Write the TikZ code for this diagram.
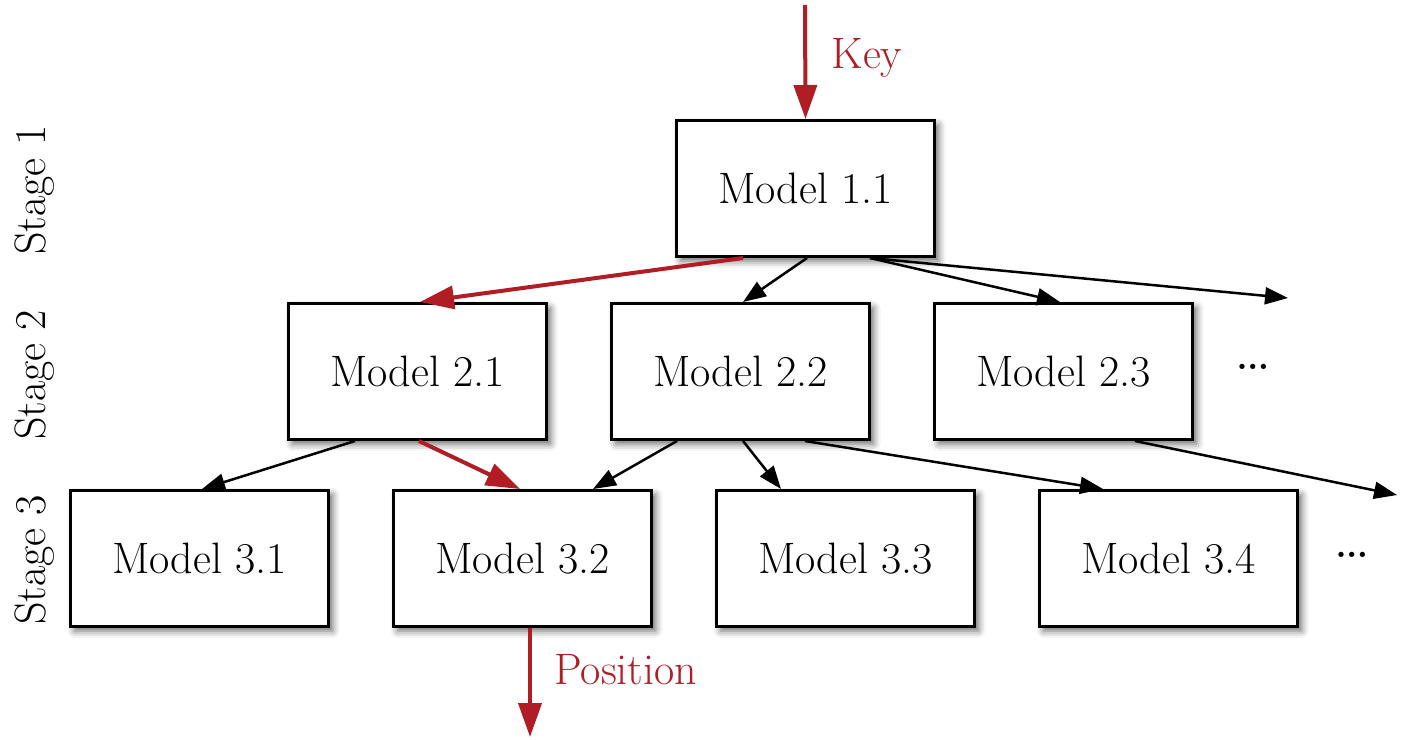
\documentclass[tikz,border=0pt]{standalone}
\usetikzlibrary{arrows.meta,shadows.blur}
\definecolor{keyred}{RGB}{176,29,37}
\begin{document}
\begin{tikzpicture}[x=0.5pt,y=-0.5pt,
  model/.style={draw=black,line width=1.5pt,fill=white,minimum width=129pt,minimum height=68pt,
    inner sep=0pt,font=\fontsize{22}{26}\selectfont,
    blur shadow={shadow xshift=2pt,shadow yshift=-2.2pt,shadow blur radius=3.5pt,shadow opacity=60}},
  edge/.style={line width=1.25pt,-{Triangle[length=11.5pt,width=8.5pt]}},
  redge/.style={line width=2pt,draw=keyred,-{Triangle[length=17pt,width=11.5pt]}},
  lab/.style={font=\fontsize{22}{26}\selectfont,inner sep=0pt},
  dotlab/.style={font=\fontsize{32}{36}\selectfont,inner sep=0pt},
  rlab/.style={lab,text=keyred}]
\useasboundingbox (0,0) rectangle (1411,739);
% boxes
\node[model] (m11) at (805.5,188.5) {Model 1.1};
\node[model] (m21) at (417.5,371.5) {Model 2.1};
\node[model] (m22) at (740.5,371.5) {Model 2.2};
\node[model] (m23) at (1063.5,371.5) {Model 2.3};
\node[model] (m31) at (199.5,558.5) {Model 3.1};
\node[model] (m32) at (522.5,558.5) {Model 3.2};
\node[model] (m33) at (845.5,558.5) {Model 3.3};
\node[model] (m34) at (1168.5,558.5) {Model 3.4};
% stage labels
\node[lab,rotate=90] (s1) at (35,190) {Stage 1};
\node[lab,rotate=90] (s2) at (35,375) {Stage 2};
\node[lab,rotate=90] (s3) at (35,560) {Stage 3};
% dots
\node[dotlab] (d2) at (1253,367) {\dots};
\node[dotlab] (d3) at (1352,555) {\dots};
% free ends
\coordinate (keyin) at (805,5);
\coordinate (posout) at (530,737);
\coordinate (f1) at (1288,298);
\coordinate (f2) at (1397,495);
% key / position
\draw[redge] (keyin) -- (m11.north);
\node[rlab,anchor=west] (key) at (831,58) {Key};
\draw[redge] ([xshift=3.75pt]m32.south) -- (posout);
\node[rlab,anchor=west] (pos) at (554,670) {Position};
% stage 1 -> 2
\draw[redge] ([xshift=-31.25pt]m11.south) -- ([xshift=1.25pt]m21.north);
\draw[edge] ([xshift=0.75pt]m11.south) -- ([xshift=1.25pt]m22.north);
\draw[edge] ([xshift=32.25pt]m11.south) -- ([xshift=-1.75pt]m23.north);
\draw[edge] ([xshift=32.25pt]m11.south) -- (f1);
% stage 2 -> 3
\draw[edge] ([xshift=-31.25pt]m21.south) -- ([xshift=1.25pt]m31.north);
\draw[redge] ([xshift=0.75pt]m21.south) -- ([xshift=-1.25pt]m32.north);
\draw[edge] ([xshift=-31.75pt]m22.south) -- ([xshift=35.25pt]m32.north);
\draw[edge] ([xshift=1.25pt]m22.south) -- ([xshift=-32.25pt]m33.north);
\draw[edge] ([xshift=32.25pt]m22.south) -- ([xshift=-32.75pt]m34.north);
\draw[edge] ([xshift=35.75pt]m23.south) -- (f2);
\end{tikzpicture}
\end{document}
